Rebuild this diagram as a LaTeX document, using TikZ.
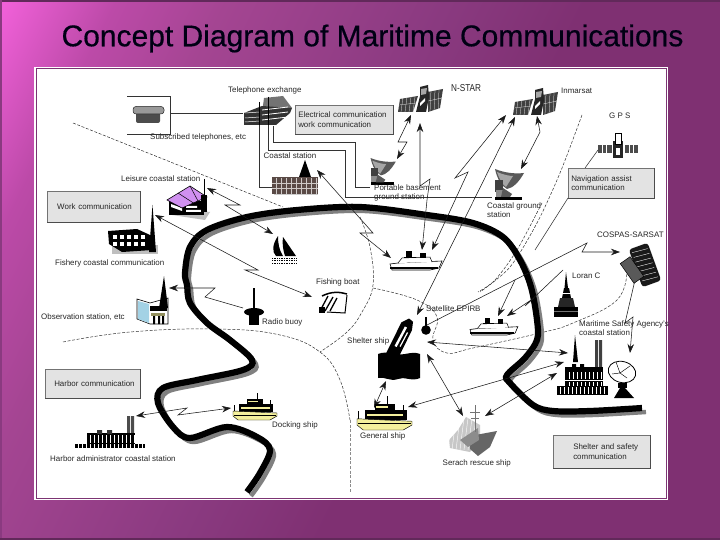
\documentclass[tikz,border=0pt]{standalone}
\usepackage{fontspec}
\setmainfont{Liberation Sans}
\newfontfamily\titlefont[FakeBold=0.5]{Liberation Sans}
\usetikzlibrary{arrows.meta}
\definecolor{pinkA}{HTML}{F060D8}
\definecolor{pinkB}{HTML}{BC4AA8}
\definecolor{pinkC}{HTML}{A44592}
\definecolor{pinkD}{HTML}{8A3A80}
\definecolor{pinkE}{HTML}{7F3072}
\definecolor{boxgrey}{HTML}{E3E3E3}
\definecolor{shipyellow}{HTML}{F4F09C}
\definecolor{roofpurple}{HTML}{D090F0}
\definecolor{brick}{HTML}{5A4A46}
\pgfdeclarehorizontalshading{slidebg}{1300bp}{color(0bp)=(pinkA); color(207bp)=(pinkA); color(306bp)=(pinkB); color(404bp)=(pinkC); color(601bp)=(pinkD); color(726bp)=(pinkE); color(1300bp)=(pinkE)}
\tikzset{
  lbl/.style={font=\fontsize{7.95}{9}\selectfont, text=black!85, inner sep=0pt, anchor=west},
  infobox/.style={fill=boxgrey, draw=black!55, line width=.5pt, anchor=north west, inner xsep=0pt, inner ysep=0pt, align=left, font=\fontsize{7.95}{9.6}\selectfont, text=black!85},
  wire/.style={draw=black!80, line width=.55pt},
  arr/.style={draw=black!90, line width=.55pt, -{Stealth[length=9pt,width=6.5pt]}},
  arrb/.style={draw=black!90, line width=.55pt, {Stealth[length=9pt,width=6.5pt]}-{Stealth[length=9pt,width=6.5pt]}},
  zone/.style={draw=black!80, line width=.5pt, dash pattern=on 3pt off 1.6pt},
}
\newcommand{\satIcon}[2]{\begin{scope}[shift={(#1,#2)}]
  \fill[black!75] (-22,-1)--(-4,-4)--(-9,12)--(-24,12)--cycle;
  \fill[black!75] (6,-8)--(21,-11)--(18,8)--(6,12)--cycle;
  \foreach \t in {-19,-15,-11,-7}{\draw[white,line width=.25pt] (\t,-3)--(\t-2,12);}
  \foreach \t in {9,13,17}{\draw[white,line width=.25pt] (\t,-10)--(\t-1,12);}
  \draw[white,line width=.25pt] (-23,5)--(-6,3) (6,1)--(20,-2);
  \fill[black!85] (-6,12)--(-2,-4)--(-2,-13)--(6,-15)--(7,-3)--(4,12)--cycle;
  \fill[black!35] (-1,-11)--(5,-12)--(4,-6)--(-1,-5)--cycle;
  \fill[white] (-2,3)--(3,-2)--(3,1)--(-2,6)--cycle;
\end{scope}}
\newcommand{\dishIcon}[3]{\begin{scope}[shift={(#1,#2)},scale=#3]
  \fill[black!65] (-12,-31) .. controls (-2,-27) and (8,-26) .. (17,-27) .. controls (12,-18) and (6,-12) .. (0,-11) .. controls (-6,-14) and (-10,-22) .. cycle;
  \fill[black!35] (-10,-28) .. controls (-3,-25) and (3,-24) .. (6,-24) -- (-1,-13) .. controls (-5,-16) and (-8,-22) .. cycle;
  \fill[black!75] (-12,-20) rectangle (-4,-8);
  \fill[black!45] (-11,-10) rectangle (-2,-3);
  \fill[black] (-12,-3) rectangle (15,0);
  \fill[black!65] (-4,-12)--(5,-6)--(3,-3)--(-6,-3)--cycle;
\end{scope}}
\newcommand{\shipY}[3]{\begin{scope}[shift={(#1,#2)},scale=#3]
  \fill[black] (6,-16) rectangle (40,-8);
  \fill[shipyellow] (8,-12.6) rectangle (37,-11);
  \fill[black] (14,-21) rectangle (30,-16);
  \fill[shipyellow] (15,-19) rectangle (25,-17.8);
  \draw[black,line width=.7pt] (24,-27)--(24,-20) (37,-20)--(37,-9) (1,-15)--(1,-9);
  \draw[black,line width=.45pt,fill=shipyellow] (0,-9)--(44,-7)--(44,-4)--(37,0)--(5,0)--(0,-4)--cycle;
  \draw[black,line width=.6pt] (1,-5)--(43,-5);
\end{scope}}
\newcommand{\ferryIcon}[3]{\begin{scope}[shift={(#1,#2)},scale=#3]
  \draw[black,fill=white,line width=.6pt] (0,-6)--(8,-7)--(52,-9)--(49,-2)--(40,0)--(2,0)--cycle;
  \fill[black] (0,-3) rectangle (48,-1.4);
  \draw[black,fill=white,line width=.5pt] (8,-7)--(12,-12)--(40,-13)--(42,-8);
  \fill[black] (16,-19) rectangle (22,-12);
  \fill[black] (30,-17) rectangle (36,-12);
  \fill[black] (14,-13) rectangle (26,-11.6);
\end{scope}}
\begin{document}
\begin{tikzpicture}[x=1pt,y=-1pt]
\useasboundingbox (0,0) rectangle (720,540);
\begin{scope}
\clip (0,0) rectangle (720,540);
\node[inner sep=0pt,rotate=-26.57] (slide) at (402.5,201) {\pgfuseshading{slidebg}};
\end{scope}
\fill[pinkD!70!black] (0,0) rectangle (720,2.4);
\fill[pinkD] (0,0) rectangle (2.4,540);
\fill[pinkD!70!black] (0,537.6) rectangle (720,540);
\node[font=\titlefont\fontsize{30}{34}\selectfont, text=black!92!blue, inner sep=0pt] (title) at (372.5,38.5) {Concept Diagram of Maritime Communications};
% panel
\fill[white] (34,67) rectangle (668,500);
\draw[pinkD!90!black,line width=.8pt] (36,68.5) rectangle (666.5,498.5);
\fill[white] (37,69.5) rectangle (665.5,497.5);
% zone boundaries
\coordinate (zaA) at (73,123); \coordinate (zaB) at (283,207);
\draw[zone] (zaA)--(zaB);
\draw[zone] plot[smooth,tension=.7] coordinates {(360,217) (370,247) (373,285) (362,312) (347,332) (320,352)};
\draw[zone] plot[smooth,tension=.7] coordinates {(63,342) (130,332) (217,329) (280,335) (320,352) (340,380) (350,420)};
\draw[draw=black!45,line width=.4pt,dash pattern=on 3pt off 1.6pt] (350,420)--(350,492);
\draw[zone] plot[smooth,tension=.7] coordinates {(373,288) (417,300) (437,317) (433,340) (447,353) (473,348) (540,333) (573,323) (617,300) (627,270)};
\draw[zone] plot[smooth,tension=.5] coordinates {(582,115) (560,173) (537,223) (510,267) (480,292)};
\draw[zone] plot[smooth,tension=.5] coordinates {(542,203) (517,250) (495,280) (478,292)};
% coast
\def\coastpts{(642,408) (590,411) (553,411) (533,405) (510,383) (507,375) (525,358) (537,340) (537,320) (531,287) (520,260) (503,237) (473,223) (427,215) (360,207) (297,210) (247,217) (207,230) (190,247) (185,273) (187,285) (190,303) (207,323) (230,340) (252,360) (243,370) (197,380) (163,388) (158,403) (173,427) (190,438) (227,427) (257,437) (270,450) (260,473) (247,492)}
\begin{scope}[shift={(4,4)}]
\draw[black!50,line width=4.4pt] plot[smooth,tension=.55] coordinates \coastpts;
\end{scope}
\draw[black,line width=6.2pt] plot[smooth,tension=.55] coordinates \coastpts;
% named connector ends
\coordinate (telL) at (127,96); \coordinate (telR) at (170,96); \coordinate (telRb) at (170,134); \coordinate (telLb) at (127,134);
\coordinate (telM) at (170,113); \coordinate (exW) at (243,113);
\coordinate (ex1) at (268,97); \coordinate (ex1a) at (268,150); \coordinate (ex1b) at (345,150); \coordinate (ex1c) at (345,197); \coordinate (cgsW) at (492,197);
\coordinate (ex2) at (273,126); \coordinate (ex2a) at (273,142); \coordinate (ex2b) at (355,142); \coordinate (ex2c) at (355,187); \coordinate (pgsW) at (370,187);
\coordinate (ex3) at (259,122); \coordinate (ex3a) at (259,187); \coordinate (csW) at (272,187);
\draw[wire] (telL)--(telR)--(telRb)--(telLb);
\draw[wire] (telM)--(exW);
\draw[wire] (ex1)--(ex1a)--(ex1b)--(ex1c)--(cgsW);
\draw[wire] (ex2)--(ex2a)--(ex2b)--(ex2c)--(pgsW);
\draw[wire] (ex3)--(ex3a)--(csW);
% satellites links
\coordinate (nsA) at (411,115); \coordinate (nsB) at (398,142); \coordinate (nsC) at (407,142); \coordinate (nsD) at (397,159);
\draw[arrb] (nsA)--(nsB)--(nsC)--(nsD);
\coordinate (nfA) at (420,123); \coordinate (nfB) at (420,186); \coordinate (nfC) at (430,179); \coordinate (nfD) at (427,200); \coordinate (nfE) at (422,250);
\draw[arrb] (nfA)--(nfB)--(nfC)--(nfD)--(nfE);
\coordinate (imA) at (506,115); \coordinate (imB) at (455,178); \coordinate (imC) at (468,172); \coordinate (imD) at (432,250);
\draw[arrb] (imA)--(imB)--(imC)--(imD);
\coordinate (imE) at (515,117); \coordinate (imF) at (417,315);
\draw[arrb] (imE)--(imF);
\coordinate (icA) at (537,116); \coordinate (icB) at (540,132); \coordinate (icC) at (521,169);
\draw[arrb] (icA)--(icB)--(icC);
\coordinate (gpsB) at (598,150); \coordinate (navT) at (585,168);
\draw[wire] (gpsB)--(navT);
\coordinate (navB) at (568,198); \coordinate (navE) at (535,250);
\draw[wire] (navB)--(navE);
% coastal links
\coordinate (csA) at (317,170); \coordinate (csB) at (373,233); \coordinate (csC) at (360,233); \coordinate (csD) at (391,258);
\draw[arrb] (csA)--(csB)--(csC)--(csD);
\coordinate (leA) at (207,188); \coordinate (leB) at (240,205); \coordinate (leC) at (225,205); \coordinate (leD) at (273,234);
\draw[arrb] (leA)--(leB)--(leC)--(leD);
\coordinate (fiA) at (155,215); \coordinate (fiB) at (258,270); \coordinate (fiC) at (245,270); \coordinate (fiD) at (312,297);
\draw[arrb] (fiA)--(fiB)--(fiC)--(fiD);
\coordinate (buA) at (243,308); \coordinate (buB) at (205,297); \coordinate (buC) at (215,288); \coordinate (buD) at (169,288);
\draw[arr] (buA)--(buB)--(buC)--(buD);
\coordinate (haA) at (136,416); \coordinate (haB) at (187,408); \coordinate (haC) at (178,415); \coordinate (haD) at (231,408);
\draw[arrb] (haA)--(haB)--(haC)--(haD);
\coordinate (epA) at (427,325); \coordinate (epB) at (587,243); \coordinate (epC) at (582,252); \coordinate (epD) at (620,252);
\draw[arr] (epA)--(epB)--(epC)--(epD);
\coordinate (loA) at (563,270); \coordinate (loB) at (525,306); \coordinate (loC) at (534,298); \coordinate (loD) at (507,316);
\draw[arr] (loA)--(loB)--(loC)--(loD);
\coordinate (s2A) at (515,280); \coordinate (s2B) at (498,316);
\draw[arr] (s2A)--(s2B);
\coordinate (rsA) at (427,342); \coordinate (rsB) at (568,353);
\draw[arrb] (rsA)--(rsB);
\coordinate (gmA) at (408,407); \coordinate (gmB) at (564,362);
\draw[arrb] (gmA)--(gmB);
\coordinate (srA) at (485,416); \coordinate (srB) at (557,373);
\draw[arrb] (srA)--(srB);
\coordinate (shA) at (427,354); \coordinate (shB) at (463,416);
\draw[arrb] (shA)--(shB);
\coordinate (sgA) at (386,381); \coordinate (sgB) at (374,408);
\draw[arrb] (sgA)--(sgB);
\coordinate (coA) at (635,280); \coordinate (coB) at (625,323); \coordinate (coC) at (633,317); \coordinate (coD) at (630,353);
\draw[arr] (coA)--(coB)--(coC)--(coD);
% phone
\fill[black!70,rounded corners=2pt] (136,112) rectangle (160,123);
\fill[black!40,rounded corners=3pt] (133,106.5) rectangle (164,114);
\draw[black!85,line width=.5pt,rounded corners=3pt] (133,106.5) rectangle (164,114);
% telephone exchange
\fill[black!55] (264,98)--(283,96)--(292,108)--(262,113)--cycle;
\fill[black!80] (244,113)--(262,106)--(292,108)--(290,113)--(276,125)--(244,125)--cycle;
\foreach \yy in {110,115,120}{\draw[white,line width=.8pt] (262,\yy)--(288,\yy-3);}
\foreach \yy in {113,118,122}{\draw[white,line width=.5pt] (245,\yy)--(260,\yy-1);}
\draw[black,line width=.6pt] (259,102)--(259,125) (268,97)--(268,125);
% coastal station
\fill[brick] (272,177) rectangle (318,194);
\foreach \xx in {276,281,...,316}{\draw[white!70!brick,line width=.35pt] (\xx,178)--(\xx,194);}
\draw[white!70!brick,line width=.35pt] (272,183)--(318,183) (272,188)--(318,188);
\fill[black] (305,160)--(299,177)--(311,177)--cycle;
\fill[black!20] (274,194) rectangle (318,195);
% sats
\satIcon{422}{100}
\satIcon{537}{103}
% GPS sat
\fill[black!70] (598,145) rectangle (612,153);
\fill[black!70] (625,145) rectangle (638,153);
\foreach \xx in {602,606,629,633}{\draw[white,line width=.4pt] (\xx,145)--(\xx,153);}
\fill[black!85] (613,141) rectangle (623,158);
\draw[black,fill=white,line width=.4pt] (615,133) rectangle (621,144);
\fill[white] (616,148) rectangle (620,155);
% dishes
\dishIcon{507}{200}{1.0}
\dishIcon{381}{185}{.87}
% boxes
\node[infobox,minimum width=98pt,minimum height=29pt,text width=96pt] (elec) at (295,105) {\hspace*{2pt}Electrical communication\\\hspace*{2pt}work communication};
\node[infobox,minimum width=93pt,minimum height=31pt,text width=83pt,inner xsep=5pt] (work) at (47,191) {\hspace*{5pt}Work communication};
\node[infobox,minimum width=95pt,minimum height=29pt,text width=87pt,inner xsep=4pt] (harb) at (45,369) {\hspace*{5pt}Harbor communication};
\node[infobox,minimum width=86pt,minimum height=30pt,text width=80pt,inner xsep=3pt] (navb) at (568,168) {Navigation assist\\communication};
\node[infobox,minimum width=97pt,minimum height=33pt,text width=77pt,inner xsep=10pt] (shel) at (553,435) {\hspace*{10pt}Shelter and safety\\\hspace*{10pt}communication};
\draw[black!70,line width=1pt] (elec.south west)--(elec.south east)--(elec.north east);
\draw[black!70,line width=1pt] (work.south west)--(work.south east)--(work.north east);
\draw[black!70,line width=1pt] (harb.south west)--(harb.south east)--(harb.north east);
\draw[black!70,line width=1pt] (navb.south west)--(navb.south east)--(navb.north east);
\draw[black!70,line width=1pt] (shel.south west)--(shel.south east)--(shel.north east);
% leisure
\fill[black!25] (172,215)--(205,220)--(210,212)--(175,208)--cycle;
\fill[black] (169,201) rectangle (204,215);
\fill[white] (171,204)--(182,208)--(182,211)--(171,207)--cycle;
\fill[white] (186,206) rectangle (197,208) (186,210) rectangle (201,212);
\draw[black,fill=roofpurple,line width=.6pt] (167,200)--(190,186)--(207,197)--(182,208)--cycle;
\draw[black,line width=.5pt] (178,193)--(195,204) (190,186)--(198,201);
\draw[black,line width=.9pt] (204,179)--(204,205);
\fill[black] (201,195) rectangle (207,212);
% fishery
\fill[black!25] (112,245) rectangle (158,254);
\fill[black] (108,231)--(137,229)--(150,235)--(152,250)--(122,252)--(109,244)--cycle;
\foreach \xx in {113,120,127,134,141}{\fill[white] (\xx,235) rectangle (\xx+4,239); \fill[white] (\xx,242) rectangle (\xx+4,246);}
\fill[black] (152.5,205)--(149,252)--(156,252)--cycle;
% sailboat
\fill[black] (278,236) .. controls (272,245) and (272,252) .. (276,256) -- (283,256) .. controls (279,250) and (278,243) .. cycle;
\fill[black] (283,237)--(296,256)--(285,256) .. controls (283,250) and (282,243) .. cycle;
\foreach \yy in {258,260.5,263}{\draw[black,line width=.7pt,densely dotted] (272,\yy)--(297,\yy);}
% observation
\draw[black,fill=white,line width=.6pt] (137,299)--(150,303)--(168,298)--(168,324)--(150,324)--(137,319)--cycle;
\fill[black!25!cyan!40] (138,301)--(149,304)--(149,323)--(138,319)--cycle;
\fill[black] (150,306) rectangle (167,311);
\fill[shipyellow!60!black] (151,313) rectangle (165,315.5);
\fill[black] (153,316) rectangle (155,324) (158,316) rectangle (160,324) (162,316) rectangle (164,324);
\fill[black] (164,276)--(159,308)--(168,308)--cycle;
% buoy
\draw[black,line width=1.6pt] (254,288)--(254,310);
\fill[black] (254,312) ellipse (10pt and 4pt);
\fill[black] (249,314) rectangle (259,325);
% fishing boat
\draw[black,line width=1.3pt] (320,311)--(328,296) (325,311)--(333,297) (330,311)--(337,298);
\draw[black,line width=1.5pt] (322,296) .. controls (332,291) and (340,292) .. (347,294);
\draw[black,line width=1pt] (327,312) -- (345,313) -- (347,295);
\fill[black] (319,307) rectangle (325,313);
% ferry etc.
\ferryIcon{390}{270}{1}
\ferryIcon{470}{335}{.92}
% shelter ship
\fill[black] (378,354) .. controls (388,350) and (396,356) .. (405,354) .. controls (410,353) and (416,352) .. (420,354) -- (420,378) .. controls (412,382) and (404,376) .. (398,379) .. controls (390,382) and (384,376) .. (378,378) -- cycle;
\begin{scope}[shift={(401,338)},rotate=62]
\fill[black] (-20,-6) -- (14,-7) -- (21,-2) -- (20,3) -- (12,6) -- (-20,7) -- cycle;
\fill[white] (-10,-2) rectangle (12,0.4);
\fill[white] (-8,2.6) rectangle (8,3.8);
\end{scope}
\draw[black,line width=1.2pt] (392.5,344)--(392.5,354);
% EPIRB
\draw[black,line width=1.6pt] (426,317)--(426,328);
\fill[black] (426,330) circle (4.8pt);
% yellow ships
\shipY{233}{420}{1}
\shipY{357}{430}{1.25}
% harbor admin
\fill[black!70] (127,416) rectangle (130,434) (131,416) rectangle (134,434);
\fill[black] (87,433) rectangle (135,444);
\fill[black!80] (97,430) rectangle (102,434) (107,430) rectangle (112,434);
\foreach \xx in {90,94,...,134}{\draw[white,line width=.35pt] (\xx,435)--(\xx,443);}
\fill[black] (75,443.5) rectangle (145,448);
\foreach \xx in {78,82,...,142}{\draw[white,line width=.4pt] (\xx,444)--(\xx,447.5);}
% loran
\fill[black] (566,272)--(564.5,288)--(568,288)--cycle;
\fill[black] (564,288)--(569,288)--(571,298)--(562,298)--cycle;
\draw[white,line width=.4pt] (562,293)--(572,293);
\fill[black!85] (560,298)--(573,298)--(575,307)--(558,307)--cycle;
\fill[black] (554,307) rectangle (578,317);
\draw[black!55,line width=.4pt] (554,311)--(578,311);
% COSPAS
\begin{scope}[shift={(645,265)},rotate=20]
\fill[black!90,rounded corners=3pt] (-10,-20) rectangle (10,20);
\foreach \yy in {-16,-11,...,16}{\draw[white,line width=.35pt] (-8,\yy)--(8,\yy+1.5);}
\end{scope}
\begin{scope}[shift={(632,270)},rotate=35]
\fill[black!65] (-6,-12) rectangle (6,12);
\draw[black,line width=.5pt] (-6,-12) rectangle (6,12);
\end{scope}
% search rescue ship
\fill[black!22] (449,440)--(458,430)--(466,417)--(480,425)--(480,440)--(470,452)--(450,448)--cycle;
\foreach \t in {452,456,...,476}{\draw[white,line width=.4pt] (\t,418)--(\t-4,450);}
\fill[black!60] (470,436)--(497,431)--(490,447)--(478,456)--(470,449)--cycle;
\fill[black!45] (460,440)--(478,428)--(479,440)--(468,447)--cycle;
\draw[black!55,line width=.9pt] (475,405)--(475,432) (470,412)--(480,412) (471,418)--(479,418);
% maritime station
\fill[black] (575,335)--(573,362)--(578,362)--cycle;
\fill[black!75] (595,340) rectangle (598,368) (599,340) rectangle (602,368);
\fill[black] (565,367) rectangle (603,388);
\fill[black] (572,364) rectangle (576,368) (580,364) rectangle (584,368);
\foreach \xx in {569,573,...,601}{\draw[white,line width=.35pt] (\xx,372)--(\xx,379);\draw[white,line width=.35pt] (\xx,382)--(\xx,387);}
\draw[white,line width=.6pt] (565,380)--(603,380);
\fill[black] (557,386) rectangle (608,395);
\foreach \xx in {560,564,...,606}{\draw[white,line width=.4pt] (\xx,387)--(\xx,394);}
% maritime dish
\draw[black,fill=white,line width=.8pt,rotate around={-15:(622,372)}] (622,372) ellipse (14pt and 10.5pt);
\draw[black,line width=.45pt] (616,362)--(620,373)--(630,366) (620,373)--(612,374) (620,373)--(627,378);
\fill[black] (618,383) rectangle (627,388);
\fill[black] (620,388)--(625,388)--(634,398)--(614,398)--cycle;
% labels
\node[lbl] (tTel) at (228,90) {Telephone exchange};
\node[lbl,font=\fontsize{10}{12}\selectfont,xscale=.82] (tNs) at (451,88) {N-STAR};
\node[lbl] (tIn) at (561,91) {Inmarsat};
\node[lbl] (tGp) at (609,116) {G P S};
\node[lbl] (tSu) at (150,137) {Subscribed telephones, etc};
\node[lbl] (tCo) at (263.5,156) {Coastal station};
\node[lbl] (tLe) at (121,179) {Leisure coastal station};
\node[lbl,align=left,anchor=north west] (tPo) at (374,185) {Portable basement\\ground station};
\node[lbl,align=left,anchor=north west] (tCg) at (487,203) {Coastal ground\\station};
\node[lbl] (tCs) at (597,235) {COSPAS-SARSAT};
\node[lbl] (tLo) at (572,276) {Loran C};
\node[lbl] (tFi) at (55,263) {Fishery coastal communication};
\node[lbl] (tFb) at (316,282) {Fishing boat};
\node[lbl] (tOb) at (41,317) {Observation station, etc};
\node[lbl] (tRa) at (262,322) {Radio buoy};
\node[lbl] (tSa) at (426,309) {Satellite EPIRB};
\node[lbl] (tSh) at (347,341) {Shelter ship};
\node[lbl,align=left,anchor=north west] (tMa) at (579,321) {Maritime Safety Agency's\\coastal station};
\node[lbl] (tDo) at (272,425) {Docking ship};
\node[lbl] (tGe) at (360,436) {General ship};
\node[lbl] (tHa) at (50,459) {Harbor administrator coastal station};
\node[lbl] (tSe) at (442.5,463) {Serach rescue ship};
\end{tikzpicture}
\end{document}
